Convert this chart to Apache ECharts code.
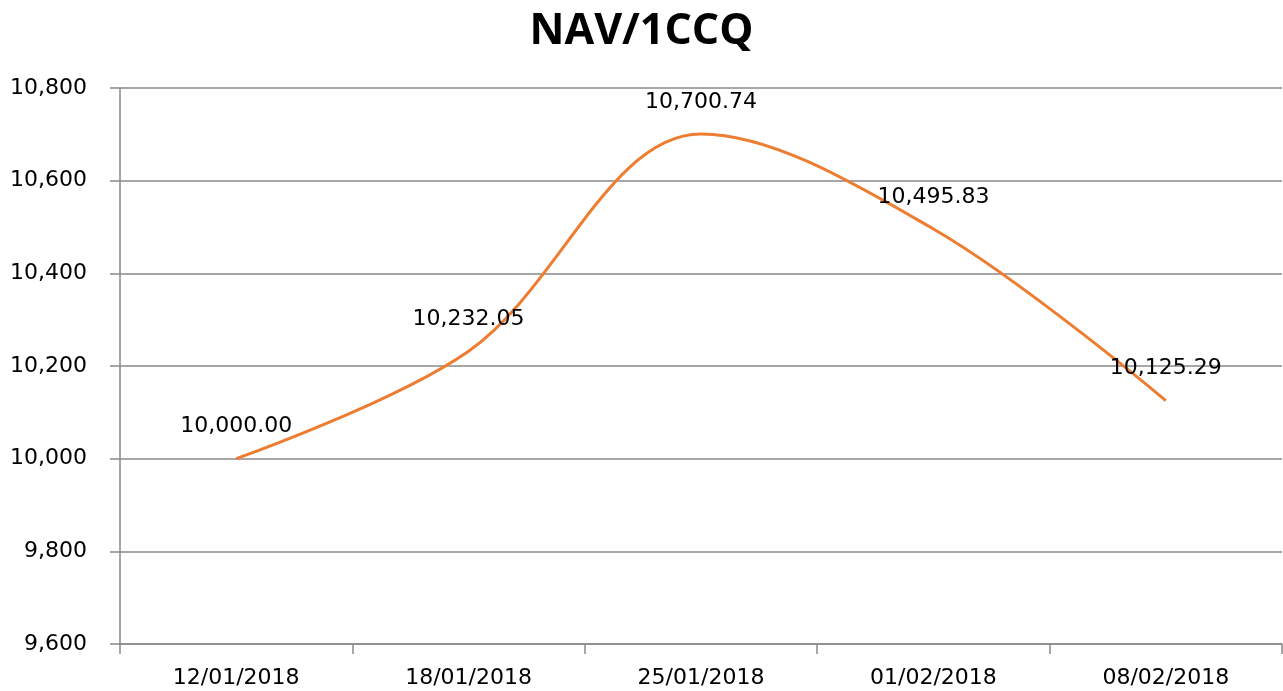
<!DOCTYPE html>
<html><head><meta charset="utf-8">
<script src="https://cdn.jsdelivr.net/npm/echarts@6/dist/echarts.min.js"></script>
<style>html,body{margin:0;padding:0;background:#fff}#c{width:1283px;height:691px}</style>
</head><body><div id="c"></div>
<script>
const categories = ['12/01/2018','18/01/2018','25/01/2018','01/02/2018','08/02/2018'];
const navValues = [10000.00, 10232.05, 10700.74, 10495.83, 10125.29];
const titleText = 'NAV/1CCQ';

const fmt = v => v.toLocaleString('en-US', {minimumFractionDigits: 2, maximumFractionDigits: 2});
const chart = echarts.init(document.getElementById('c'));
chart.setOption({
  animation: false,
  title: {text: titleText, left: 'center', top: 5,
    textStyle: {fontFamily: 'Open Sans', fontWeight: 'bold', fontSize: 43, color: '#000'}},
  grid: {left: 120, right: 1, top: 88, bottom: 47, containLabel: false},
  xAxis: {type: 'category', data: categories, boundaryGap: true,
    axisLine: {lineStyle: {color: '#898989', width: 1.5}},
    axisTick: {show: true, length: 10, alignWithLabel: false, lineStyle: {color: '#898989', width: 1.5}},
    axisLabel: {color: '#000', fontFamily: 'DejaVu Sans', fontSize: 22, margin: 23}},
  yAxis: {type: 'value', min: 9600, max: 10800, interval: 200,
    axisLine: {show: true, lineStyle: {color: '#898989', width: 1.5}},
    axisTick: {show: true, length: 10, lineStyle: {color: '#898989', width: 1.5}},
    splitLine: {lineStyle: {color: '#898989', width: 1.5}},
    axisLabel: {color: '#000', fontFamily: 'DejaVu Sans', fontSize: 22, margin: 33,
      formatter: v => v.toLocaleString('en-US')}},
  series: [{type: 'line', data: navValues, smooth: 0.35, symbol: 'circle', symbolSize: 2, showSymbol: true,
    itemStyle: {color: 'rgba(237,125,49,0)', borderWidth: 0},
    lineStyle: {color: '#ED7D31', width: 3},
    label: {show: true, position: 'top', distance: 20, color: '#000',
      fontFamily: 'DejaVu Sans', fontSize: 22, formatter: p => fmt(p.value)}}]
});
</script></body></html>
